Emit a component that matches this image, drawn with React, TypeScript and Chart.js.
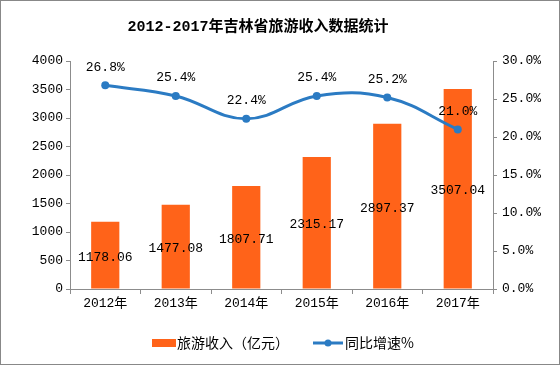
import React, { useEffect, useRef } from "react";
import { Chart, registerables } from "chart.js";

Chart.register(...registerables);

const title = "2012-2017年吉林省旅游收入数据统计";
const categories = ["2012年", "2013年", "2014年", "2015年", "2016年", "2017年"];
const revenue = [1178.06, 1477.08, 1807.71, 2315.17, 2897.37, 3507.04];
const growth = [26.8, 25.4, 22.4, 25.4, 25.2, 21.0];
const revenueLabel = "旅游收入（亿元）";
const growthLabel = "同比增速%";

const BAR_COLOR = "#FF6319";
const LINE_COLOR = "#2B7BC3";
const AXIS_COLOR = "#8C8C8C";
const FONT = "'Liberation Mono', 'Noto Sans CJK SC', monospace";

const decoPlugin = {
  id: "deco",
  afterDatasetsDraw(chart: any) {
    const ctx = chart.ctx;
    ctx.save();
    ctx.fillStyle = "#000";
    ctx.textAlign = "center";
    ctx.textBaseline = "middle";
    ctx.font = "13px " + FONT;
    const barMeta = chart.getDatasetMeta(0);
    barMeta.data.forEach((el: any, i: number) => {
      const y = (el.y + el.base) / 2;
      ctx.fillText(revenue[i].toFixed(2), el.x, y + 2);
    });
    const lineMeta = chart.getDatasetMeta(1);
    lineMeta.data.forEach((el: any, i: number) => {
      ctx.fillText(growth[i].toFixed(1) + "%", el.x, el.y - 18);
    });
    ctx.restore();
  },
  afterDraw(chart: any) {
    const ctx = chart.ctx;
    const W = chart.width;
    const H = chart.height;
    ctx.save();
    ctx.fillStyle = "#000";
    ctx.textAlign = "center";
    ctx.textBaseline = "middle";
    ctx.font = "bold 15px " + FONT;
    ctx.fillText(title, 258, 27);
    ctx.font = "14px 'Noto Sans CJK SC', sans-serif";
    ctx.textAlign = "left";
    const ly = 343;
    ctx.fillStyle = BAR_COLOR;
    ctx.fillRect(152, ly - 4, 24, 8);
    ctx.fillStyle = "#000";
    ctx.fillText(revenueLabel, 177, ly);
    ctx.strokeStyle = LINE_COLOR;
    ctx.lineWidth = 3;
    ctx.beginPath();
    ctx.moveTo(313, ly);
    ctx.lineTo(343, ly);
    ctx.stroke();
    ctx.fillStyle = LINE_COLOR;
    ctx.beginPath();
    ctx.arc(328, ly, 3.5, 0, Math.PI * 2);
    ctx.fill();
    ctx.fillStyle = "#000";
    ctx.fillText(growthLabel, 345, ly);
    ctx.strokeStyle = "#888";
    ctx.lineWidth = 1;
    ctx.strokeRect(0.5, 0.5, W - 1, H - 1);
    ctx.restore();
  },
};

export default function App() {
  const ref = useRef<HTMLCanvasElement | null>(null);
  useEffect(() => {
    document.body.style.margin = "0";
    const chart = new Chart(ref.current as HTMLCanvasElement, {
      type: "bar",
      data: {
        labels: categories,
        datasets: [
          {
            type: "bar",
            label: revenueLabel,
            data: revenue,
            backgroundColor: BAR_COLOR,
            barPercentage: 0.4,
            categoryPercentage: 1,
            yAxisID: "y",
            order: 2,
          },
          {
            type: "line",
            label: growthLabel,
            data: growth,
            borderColor: LINE_COLOR,
            backgroundColor: LINE_COLOR,
            borderWidth: 3,
            pointRadius: 4,
            pointBackgroundColor: LINE_COLOR,
            pointBorderWidth: 0,
            tension: 0.4,
            yAxisID: "y1",
            order: 1,
          } as any,
        ],
      },
      options: {
        responsive: false,
        animation: false,
        layout: { padding: { top: 61, bottom: 52, left: 0, right: 0 } },
        plugins: {
          legend: { display: false },
          title: { display: false },
          tooltip: { enabled: false },
        },
        scales: {
          x: {
            grid: {
              display: true,
              drawOnChartArea: false,
              drawTicks: true,
              tickLength: 5,
              color: AXIS_COLOR,
              offset: true,
            },
            border: { color: AXIS_COLOR },
            ticks: { color: "#000", font: { size: 13, family: FONT }, padding: 2, maxRotation: 0 },
            afterFit: (s: any) => {
              s.height = 24;
            },
          },
          y: {
            position: "left",
            min: 0,
            max: 4000,
            grid: { drawOnChartArea: false, tickLength: 4, color: AXIS_COLOR },
            border: { color: AXIS_COLOR },
            ticks: {
              stepSize: 500,
              color: "#000",
              font: { size: 13, family: FONT },
              padding: 3,
              callback: (v: any) => String(v),
            },
            afterFit: (s: any) => {
              s.width = 70;
            },
          },
          y1: {
            position: "right",
            min: 0,
            max: 30,
            grid: { drawOnChartArea: false, tickLength: 4, color: AXIS_COLOR },
            border: { color: AXIS_COLOR },
            ticks: {
              stepSize: 5,
              color: "#000",
              font: { size: 13, family: FONT },
              padding: 5,
              callback: (v: any) => Number(v).toFixed(1) + "%",
            },
            afterFit: (s: any) => {
              s.width = 67;
            },
          },
        },
      },
      plugins: [decoPlugin],
    });
    return () => chart.destroy();
  }, []);
  return (
    <div style={{ width: 560, height: 365, background: "#fff" }}>
      <canvas ref={ref} width={560} height={365} style={{ display: "block" }} />
    </div>
  );
}
